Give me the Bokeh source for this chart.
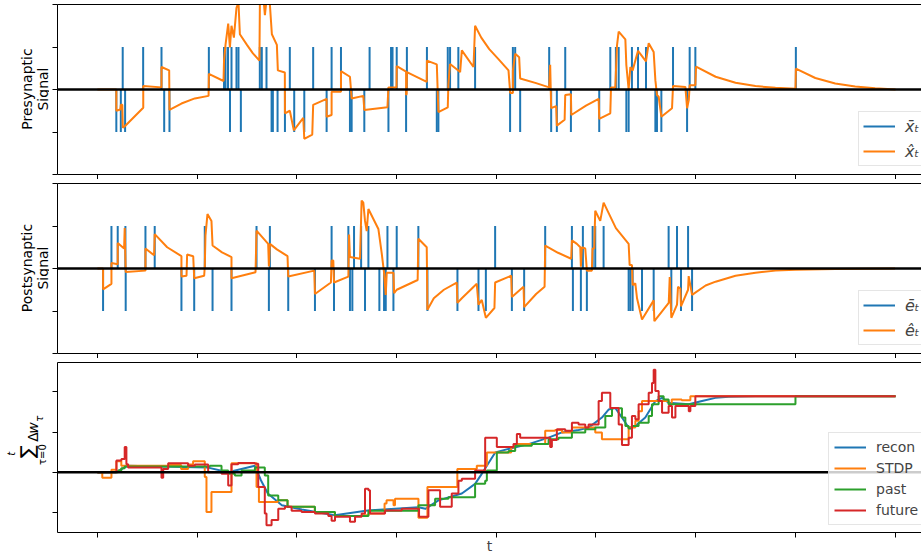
import numpy as np
from bokeh.plotting import figure
from bokeh.models import Span, Legend, LegendItem, FixedTicker, LinearAxis, Range1d
from bokeh.layouts import column, row
from bokeh.core.properties import value
from bokeh.embed import file_html
from bokeh.resources import INLINE

BLUE, ORANGE, GREEN, RED = "#1f77b4", "#ff7f0e", "#2ca02c", "#d62728"
FONT = "DejaVu Sans"

# ---------------- data ----------------
x_ticks = [0, 100, 200, 300, 400, 500, 600, 700, 800]
sig_y_ticks = [-2, -1, 0, 1, 2]
w_y_ticks = [-1, 0, 1, 2]

# presynaptic spikes (time, sign)
pre_spike_t = [19, 23.5, 25.4, 27.8, 45.9, 64.3, 67, 72.3, 111.8, 127, 128.5, 131, 133, 134.5, 139.5,
               141.5, 143.9, 162.9, 164.9, 169.6, 174.7, 176, 180.7, 188.1, 193, 197.4, 207.5, 216.4,
               229.9, 234.9, 244.3, 253.3, 255, 267.7, 273, 291.9, 294.5, 296, 300.2, 309.6, 310.4,
               330.5, 340.4, 342, 351.4, 353.7, 362, 378.8, 413.9, 416.7, 419, 424, 453.1, 455.1, 460.8,
               469.2, 474.9, 503.3, 514.4, 520, 522.8, 530.5, 532.8, 536.1, 542.2, 550.2, 559.6, 561.2,
               565.6, 577.3, 591.4, 594, 599.7, 700.5]
pre_spike_s = [-1, -1, 1, -1, 1, 1, -1, -1, 1, 1, 1, 1, -1, 1, 1,
               1, -1, 1, 1, 1, -1, -1, -1, -1, 1, -1, -1, 1,
               -1, 1, 1, -1, -1, -1, 1, -1, 1, 1, 1, -1, 1,
               1, -1, -1, 1, 1, 1, 1, -1, 1, 1, -1, 1, -1, -1,
               1, -1, -1, 1, 1, 1, -1, -1, 1, 1, 1, -1, -1,
               -1, 1, -1, 1, 1, 1]

# presynaptic reconstruction (time, value)
pre_hat = [(0, 0), (19, 0), (19, -0.5), (23, -0.47), (23.5, -0.36), (25, -0.36), (25.5, -0.9),
           (27.8, -0.86), (46, -0.43), (46, 0.08), (64.3, 0.05), (64.3, 0.53), (72, 0.45), (72.3, -0.48),
           (84.3, -0.33), (97.7, -0.21), (111.5, -0.15), (111.8, 0.37), (126.5, 0.2), (127, 0.68),
           (128.5, 1.05), (131.2, 1.55), (132.9, 0.99), (134.5, 1.5), (136.9, 1.22), (139.5, 1.92),
           (141.5, 2.05), (142.9, 1.3), (150, 1.05), (156, 0.85), (162.5, 0.68), (163, 2.1), (166, 2.3),
           (168, 1.75), (170, 2.2), (173, 2.0), (175, 1.3), (180, 1.05), (181, 0.45), (188, 0.4),
           (188.1, -0.56), (193, -0.5), (197, -0.96), (206.5, -0.67), (207.5, -1.16), (215.5, -1.06),
           (216.4, -0.36), (229.9, -0.22), (229.9, -0.64), (234.9, -0.6), (234.9, -0.05), (244.3, -0.05),
           (244.3, 0.43), (253.3, 0.3), (255, -0.21), (266.7, -0.15), (267.7, -0.48), (290.9, -0.42),
           (291.9, 0.05), (300, 0.05), (300.2, 0.55), (309.6, 0.42), (309.6, -0.13), (310.2, -0.1),
           (310.4, 0.41), (330.3, 0.18), (330.5, 0.68), (340.4, 0.59), (342, -0.53), (351.4, -0.42),
           (352, 0.12), (353.7, 0.6), (363.8, 0.41), (365.5, 0.92), (377.2, 0.53), (378.8, 1.5),
           (385, 1.22), (393, 0.95), (402, 0.72), (412.3, 0.45), (414, -0.08), (416.7, -0.08),
           (416.7, 0.45), (419, 0.84), (423, 0.76), (424, 0.26), (440, 0.15), (453.1, 0.05),
           (454.1, 0.58), (455.1, -0.44), (460.1, -0.39), (460.8, -0.85), (468.6, -0.71), (469.2, -0.13),
           (474.9, -0.11), (475.3, -0.6), (490, -0.38), (502.7, -0.22), (503.3, -0.69), (514.4, -0.56),
           (515.1, 0.05), (519.4, 0.05), (521.1, 1.03), (522.8, 1.36), (529.5, 1.18), (530.5, 0.57),
           (532.8, 0.0), (534.5, 0.53), (536.8, 0.45), (542.2, 0.91), (550.2, 0.66), (552.9, 1.09),
           (557.9, 0.88), (559.6, 0.22), (561.2, -0.13), (562.9, -0.17), (565.6, -0.64), (576.3, -0.44),
           (577.3, 0.08), (589.7, 0.06), (591.4, -0.44), (593.1, -0.25), (594, 0.1), (599.7, 0.1),
           (600.4, 0.54), (620, 0.3), (640, 0.16), (660, 0.08), (680, 0.04), (700.1, 0.02),
           (700.5, 0.49), (720, 0.27), (740, 0.14), (760, 0.07), (780, 0.03), (800.5, 0.0)]

# postsynaptic spikes (time, sign)
post_spike_t = [5.7, 14.1, 20.4, 28.1, 28.4, 48.2, 57.5, 84.3, 97.1, 107.7, 115.5, 134.5, 159.6, 172,
                173, 191.4, 218.2, 234.9, 237.3, 251.7, 253.3, 255.7, 257.4, 264.5, 268.4, 271.8, 282.8,
                287.5, 289.2, 290.9, 296.9, 300.2, 321.9, 331, 361.1, 382.2, 389.6, 398.9, 415.7, 428,
                449.1, 475.9, 476.9, 484.9, 486.9, 490.9, 496.7, 499.3, 507.7, 532.8, 534.5, 536.8,
                546.2, 557.9, 572.9, 575.6, 581.3, 585.3, 592.4, 596.4]
post_spike_s = [-1, 1, 1, 1, -1, 1, 1, -1, -1, 1, -1, -1, 1, -1,
                1, -1, -1, 1, -1, 1, -1, -1, 1, 1, -1, 1, -1,
                -1, -1, 1, -1, 1, 1, -1, -1, -1, -1, 1, -1, -1,
                1, 1, -1, -1, 1, -1, 1, 1, 1, -1, -1, -1,
                -1, -1, 1, -1, 1, -1, 1, -1]

# postsynaptic reconstruction (time, value)
post_hat = [(0, 0), (5.7, 0), (5.7, -0.49), (14.1, -0.36), (14.1, 0.13), (20.4, 0.1), (20.4, 0.6),
            (26.8, 0.47), (27.4, 0.95), (28.4, -0.08), (48.2, -0.05), (48.2, 0.47), (56.9, 0.31),
            (57.5, 0.81), (70, 0.5), (84.3, 0.29), (84.3, -0.19), (89.4, -0.17), (90, 0.33), (96.1, 0.29),
            (97.1, -0.23), (107.1, -0.17), (107.7, 0.04), (108.4, 0.78), (110.4, 1.28), (114.4, 1.12),
            (115.5, 0.54), (125, 0.38), (134.5, 0.27), (134.5, -0.23), (158.6, -0.09), (159.6, 0.89),
            (171.3, 0.58), (172, 0.05), (173, 0.58), (180, 0.45), (190.7, 0.29), (191.4, -0.19),
            (217.5, -0.05), (218.2, -0.6), (234.2, -0.33), (234.9, 0.19), (236.6, 0.19), (237.3, -0.33),
            (251.7, -0.19), (252.4, 0.8), (253.3, 0.27), (263.4, 0.23), (265, 1.6), (266.7, 1.55),
            (268.4, 1.12), (270.1, 0.88), (271.8, 1.4), (281.8, 0.93), (285.2, 0.35), (287.5, -0.1),
            (289.2, -0.62), (290.2, -0.1), (296.9, -0.1), (297.6, -0.58), (300.2, -0.5), (321.2, -0.27),
            (321.9, 0.7), (330.3, 0.5), (331, -0.97), (337.4, -0.7), (347.5, -0.5), (360.4, -0.33),
            (361.1, -0.81), (365.5, -0.7), (380.5, -0.36), (382.2, -0.85), (385.5, -0.74), (389.6, -1.16),
            (398.2, -0.93), (398.9, -0.33), (415, -0.17), (415.7, -0.67), (427.4, -0.43), (428, -0.91),
            (440, -0.6), (448.5, -0.43), (449.1, 0.54), (462, 0.37), (475.2, 0.23), (475.9, 0.66),
            (480.9, 0.58), (484.3, 0.5), (484.9, 0.04), (485.9, 0.5), (489.3, 0.47), (490.9, -0.05),
            (495.9, -0.05), (496.6, 0.47), (498.3, 0.47), (499.3, 1.36), (504.3, 1.12), (507.7, 1.55),
            (520, 0.95), (532.8, 0.58), (533.8, 0.08), (536.1, 0.08), (536.8, -0.39), (539.5, -0.35),
            (541.2, -0.7), (546.2, -1.2), (557.9, -0.75), (558.6, -1.24), (573, -0.81), (574, -0.2),
            (575.6, -1.16), (581.3, -0.85), (582.3, -0.43), (584.6, -0.47), (585.3, -0.89), (592.4, -0.5),
            (593, -0.18), (596.4, -0.62), (610, -0.4), (620, -0.31), (640, -0.17), (660, -0.1),
            (680, -0.05), (700, -0.03), (740, -0.01), (800, 0)]

# cumulative weight changes
recon_t = [0, 19, 30, 110, 131, 158, 164, 171, 185, 205, 238, 271, 322, 329, 342, 365.5, 378.8, 385.5,
           399, 412.3, 432.4, 452.5, 465.9, 482.6, 492.6, 506, 512.7, 519.4, 526.1, 532.8, 539.5, 549.5,
           559.6, 566.3, 572.9, 593.1, 606.4, 619.8, 633.2, 660, 800.5]
recon_v = [0, 0, 0.16, 0.12, 0, 0.16, -0.2, -0.53, -0.82, -0.93, -1.07, -0.95, -0.87, -0.91, -0.7,
           -0.53, -0.29, -0.04, 0.49, 0.58, 0.7, 0.86, 0.99, 1.05, 1.11, 1.36, 1.56, 1.6, 1.36, 1.11,
           1.15, 1.36, 1.77, 1.85, 1.73, 1.69, 1.77, 1.85, 1.88, 1.89, 1.89]

stdp_t = [0, 4.9, 14.1, 19.1, 24, 72, 84, 91, 96, 107.7, 109.4, 114.4, 134.5, 159.6, 162, 181, 190.7,
          218, 238, 265, 272, 288, 290, 297, 298.5, 322, 331, 361, 380.5, 390.6, 415, 419, 449.1, 459,
          466, 476, 499.3, 506, 532.8, 539.5, 542.8, 546.2, 573, 576, 586, 594.7, 800.5]
stdp_v = [0, -0.14, 0.06, 0.27, 0.16, 0.18, 0.08, 0.19, 0.27, -0.12, -0.99, -0.49, 0.22, -0.37, -0.74,
          -0.7, -0.86, -0.99, -1.09, -1.07, -1.03, -0.78, -0.7, -0.82, -0.66, -1.13, -0.37, 0.08, 0.16,
          0.49, 0.62, 0.7, 1.03, 1.05, 0.99, 1.11, 0.99, 0.82, 1.11, 1.28, 1.52, 1.77, 1.69, 1.81, 1.79,
          1.89, 1.89]

past_t = [0, 20.8, 24, 27.4, 112.8, 124.5, 131.2, 137.9, 144.6, 158, 167.9, 171.3, 181.4, 190.7, 218.2,
          238.3, 271.8, 322, 338.7, 352, 378.8, 388.9, 390.6, 400.6, 412.3, 419, 435.7, 452.5, 462.5,
          475.9, 489.3, 499.3, 509.4, 516.1, 522.8, 526.1, 529.5, 532.8, 536.1, 542.8, 552.9, 556.2,
          562.9, 567.9, 572.9, 700.1, 800.5]
past_v = [0, 0.04, 0.1, 0.14, 0.16, 0.04, -0.04, -0.08, 0.04, 0.12, -0.08, -0.58, -0.7, -0.86, -0.99,
          -1.09, -0.96, -0.82, -0.66, -0.62, -0.29, -0.21, 0.04, 0.49, 0.53, 0.66, 0.7, 0.82, 0.86, 0.99,
          1.07, 1.11, 1.4, 1.6, 1.59, 1.36, 1.15, 1.09, 1.15, 1.23, 1.4, 1.69, 1.89, 1.81, 1.69, 1.89,
          1.89]

future_t = [0, 19.1, 24.1, 27.4, 29.1, 30.8, 64.3, 66, 71, 91, 97.7, 111.1, 124.5, 131.2, 134.5, 141.2,
            158, 161.3, 167.9, 169.6, 174.7, 181.4, 188.1, 194.8, 204.8, 218.2, 231.6, 234.9, 238.3,
            253.3, 258.4, 265, 268.4, 271.8, 273.4, 288.5, 305.2, 322.6, 332, 343.7, 355.4, 362.1, 365.5,
            378.8, 388.9, 400.6, 417.3, 420.7, 424, 454.1, 455.8, 460.8, 469.2, 475.9, 482.6, 489.3,
            492.6, 502.7, 506, 514.4, 522.8, 526.1, 532.8, 536.1, 539.5, 542.8, 552.9, 556.2, 557.9,
            559.6, 562.9, 566.3, 572.9, 576.3, 579.7, 593.1, 594.7, 599.7, 800.5]
future_v = [0, 0.29, 0.33, 0.63, 0.2, 0.12, -0.14, 0.08, 0.22, 0.16, 0.19, 0, -0.04, -0.33, 0.2, 0.23,
            0.21, -0.37, -1.03, -1.32, -1.19, -0.91, -0.86, -0.96, -0.99, -1.03, -1.09, -1.21, -1.11,
            -1.23, -1.11, -1.03, -0.41, -0.45, -1.03, -0.95, -0.91, -1.11, -0.45, -0.86, -0.53, -0.21,
            -0.16, 0.04, 0.86, 0.63, 0.7, 0.95, 0.86, 0.63, 0.8, 1.07, 1.03, 1.23, 1.19, 1.11, 1.19,
            1.77, 1.98, 1.6, 1.19, 0.68, 0.86, 1.4, 1.32, 1.69, 1.98, 2.22, 2.55, 2.02, 1.77, 1.48,
            1.65, 1.36, 1.65, 1.52, 1.65, 1.89, 1.89]

pre_hat_t, pre_hat_v = map(list, zip(*pre_hat))
post_hat_t, post_hat_v = map(list, zip(*post_hat))

# ---------------- layout ----------------
X_LO, X_HI = -40, 826.5
FW, FH = 864, 170
AX_W = 8          # left border of each panel (ticks)
LAB_W = 49        # width of the y-label strip
TOP = 4


def base_fig(y_lo, y_hi, y_ticks, bottom):
    p = figure(frame_width=FW, frame_height=FH, x_range=Range1d(X_LO, X_HI), y_range=Range1d(y_lo, y_hi),
               output_backend="svg", toolbar_location=None, min_border_left=AX_W, min_border_right=0,
               min_border_top=TOP, min_border_bottom=bottom,
               background_fill_color="white", border_fill_color="white")
    p.outline_line_color = None
    p.grid.visible = False
    for ax, ticks in ((p.xaxis[0], x_ticks), (p.yaxis[0], y_ticks)):
        ax.ticker = FixedTicker(ticks=ticks)
        ax.major_label_text_font_size = "0px"
        ax.major_label_text_color = None
        ax.major_label_standoff = 0
        ax.major_tick_out = 5
        ax.major_tick_in = 0
        ax.minor_tick_out = 0
        ax.minor_tick_in = 0
        ax.axis_line_color = "black"
        ax.major_tick_line_color = "black"
        ax.axis_line_width = 1
    top_ax = LinearAxis(ticker=FixedTicker(ticks=[]), major_label_text_font_size="0px",
                        major_label_text_color=None,
                        major_label_standoff=0, major_tick_out=0, major_tick_in=0,
                        minor_tick_out=0, minor_tick_in=0, axis_line_color="black")
    p.add_layout(top_ax, "above")
    return p


def label_strip(height, xs, ys, texts, sizes, styles):
    """A narrow plot holding rotated y-label texts (pixel coordinates, y down)."""
    q = figure(width=LAB_W, height=height, x_range=Range1d(0, LAB_W), y_range=Range1d(height, 0),
               output_backend="svg", toolbar_location=None, min_border=0,
               x_axis_location=None, y_axis_location=None,
               background_fill_color="white", border_fill_color="white")
    q.outline_line_color = None
    q.grid.visible = False
    for x, y, t, s, st in zip(xs, ys, texts, sizes, styles):
        q.text(x=[x], y=[y], text=[t], angle=np.pi / 2, text_align="center", text_baseline="middle",
               text_font=value(FONT), text_font_size=value(s), text_font_style=st, text_color="black")
    return q


def add_zero(p):
    p.add_layout(Span(location=0, dimension="width", line_color="black", line_width=2.6))


def make_legend(items, loc, italic, glyph_h, spacing, padding, size):
    return Legend(items=items, location=loc, orientation="vertical",
                  label_text_font=FONT, label_text_font_size=size,
                  label_text_font_style="italic" if italic else "normal",
                  glyph_width=32, glyph_height=glyph_h, label_height=glyph_h, label_standoff=10,
                  padding=padding, spacing=spacing, margin=0,
                  border_line_color="#cccccc", border_line_width=1,
                  background_fill_color="white", background_fill_alpha=0.8)


MIDY = TOP + FH / 2
H12 = TOP + FH + 5
H3 = TOP + FH + 22

# Panel 1: presynaptic
p1 = base_fig(-2, 2, sig_y_ticks, 5)
r1a = p1.segment(x0=pre_spike_t, y0=[0] * len(pre_spike_t), x1=pre_spike_t, y1=pre_spike_s,
                 line_color=BLUE, line_width=2)
r1b = p1.line(pre_hat_t, pre_hat_v, line_color=ORANGE, line_width=2)
add_zero(p1)
p1.add_layout(make_legend([LegendItem(label="x\u0304\u209c", renderers=[r1a]),
                           LegendItem(label="x\u0302\u209c", renderers=[r1b])],
                          (801, 8), True, 20, 5, 4, "16px"))
l1 = label_strip(H12, [26.5, 42], [MIDY, MIDY], ["Presynaptic", "Signal"], ["14px", "14px"],
                 ["normal", "normal"])

# Panel 2: postsynaptic
p2 = base_fig(-2, 2, sig_y_ticks, 5)
r2a = p2.segment(x0=post_spike_t, y0=[0] * len(post_spike_t), x1=post_spike_t, y1=post_spike_s,
                 line_color=BLUE, line_width=2)
r2b = p2.line(post_hat_t, post_hat_v, line_color=ORANGE, line_width=2)
add_zero(p2)
p2.add_layout(make_legend([LegendItem(label="\u0113\u209c", renderers=[r2a]),
                           LegendItem(label="\u00ea\u209c", renderers=[r2b])],
                          (801, 8), True, 20, 5, 4, "16px"))
l2 = label_strip(H12, [26.5, 42], [MIDY, MIDY], ["Postsynaptic", "Signal"], ["14px", "14px"],
                 ["normal", "normal"])

# Panel 3: cumulative weight change
p3 = base_fig(-1.5, 2.73, w_y_ticks, 22)
bx = p3.below[0]
bx.axis_label = "t"
bx.axis_label_text_font = FONT
bx.axis_label_text_font_size = "14px"
bx.axis_label_text_font_style = "normal"
bx.axis_label_standoff = 0
r3a = p3.line(recon_t, recon_v, line_color=BLUE, line_width=2)
r3b = p3.step(stdp_t, stdp_v, mode="after", line_color=ORANGE, line_width=2)
r3c = p3.step(past_t, past_v, mode="after", line_color=GREEN, line_width=2)
r3d = p3.step(future_t, future_v, mode="after", line_color=RED, line_width=2)
add_zero(p3)
p3.add_layout(make_legend([LegendItem(label="recon", renderers=[r3a]),
                           LegendItem(label="STDP", renderers=[r3b]),
                           LegendItem(label="past", renderers=[r3c]),
                           LegendItem(label="future", renderers=[r3d])],
                          (771, 7), False, 18, 3, 5, "14px"))
l3 = label_strip(H3,
                 [26.5, 11, 42, 32.5, 32.5, 38.5],
                 [MIDY + 15, MIDY + 17.5, MIDY + 18.5, MIDY - 2, MIDY - 12.5, MIDY - 23.5],
                 ["\u2211", "t", "\u03c4=0", "\u0394", "w", "\u03c4"],
                 ["19px", "10px", "10px", "14px", "14px", "10px"],
                 ["normal", "italic", "normal", "normal", "italic", "italic"])

layout = column(row(l1, p1), row(l2, p2), row(l3, p3))
open("out.html", "w").write(file_html(layout, INLINE, title="plot"))
